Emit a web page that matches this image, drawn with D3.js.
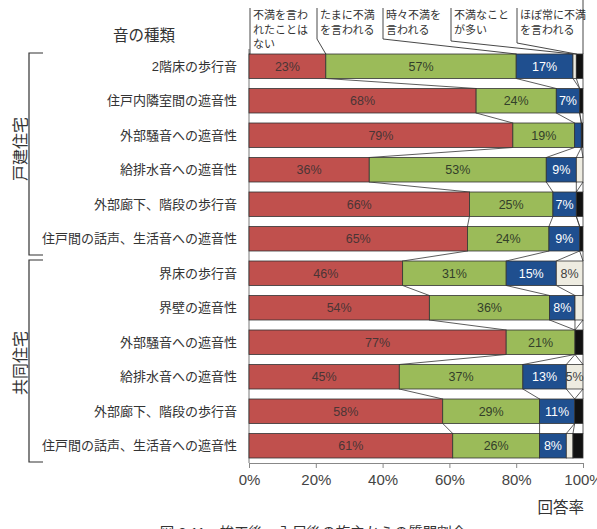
<!DOCTYPE html>
<html>
<head>
<meta charset="utf-8">
<script src="https://cdn.jsdelivr.net/npm/d3@7/dist/d3.min.js"></script>
<style>
  html, body { margin: 0; padding: 0; background: #fff; overflow: hidden; }
  svg { display: block; font-family: "Liberation Sans", "Noto Sans CJK JP", sans-serif; }
</style>
</head>
<body>
<svg id="chart" width="597" height="529"></svg>
<script>
const categories = [
  "2階床の歩行音", "住戸内隣室間の遮音性", "外部騒音への遮音性", "給排水音への遮音性",
  "外部廊下、階段の歩行音", "住戸間の話声、生活音への遮音性",
  "界床の歩行音", "界壁の遮音性", "外部騒音への遮音性", "給排水音への遮音性",
  "外部廊下、階段の歩行音", "住戸間の話声、生活音への遮音性"
];
const groups = ["戸建住宅", "共同住宅"];
const groupStart = [0, 6];
const groupEnd = [5, 11];
const seriesNames = ["不満を言われたことはない", "たまに不満を言われる", "時々不満を言われる", "不満なことが多い", "ほぼ常に不満を言われる"];
const seriesLabelLines = [["不満を言わ", "れたことは", "ない"], ["たまに不満", "を言われる"], ["時々不満を", "言われる"], ["不満なこと", "が多い"], ["ほぼ常に不満", "を言われる"]];
const never     = [23, 68, 79,   36, 66, 65.4, 46, 54,   77,   45, 58,   61];
const sometimes = [57, 24, 18.5, 53, 25, 24.4, 31, 36,   20.6, 37, 29,   26];
const often     = [17, 7,  2,    9,  7,  9.2,  15, 7.6,  0,    13, 10.5, 8];
const frequent  = [1,  0,  0,    2,  0,  0,    8,  2.4,  0,    5,  0,    2];
const always    = [2,  1,  0.5,  0,  2,  1,    0,  0,    2.4,  0,  2.5,  3];
const xTicks = [0, 20, 40, 60, 80, 100];
const xTickLabels = ["0%", "20%", "40%", "60%", "80%", "100%"];
const yAxisTitle = "音の種類";
const xAxisTitle = "回答率";
const caption = "図 2.11　竣工後、入居後の施主からの質問割合";

const colors = ["#c0504d", "#9bbb59", "#1f4f8f", "#eeece1", "#111111"];
const labelColors = ["#4a3535", "#33402a", "#ffffff", "#404040", "#ffffff"];

const seriesData = [never, sometimes, often, frequent, always];
const svg = d3.select("#chart");

const x = d3.scaleLinear().domain([0, 100]).range([249, 583]);
const y = d3.scaleBand().domain(d3.range(categories.length)).range([49, 463])
  .paddingInner(0.29).paddingOuter(0.145);
const bw = y.bandwidth();

// stacked data
const rows = categories.map((c, i) => {
  const o = { i };
  seriesNames.forEach((s, k) => o[k] = seriesData[k][i]);
  return o;
});
const stack = d3.stack().keys(d3.range(seriesNames.length))(rows);

// series lines (between bars)
const lineG = svg.append("g").attr("stroke", "#333").attr("stroke-width", 0.8).attr("fill", "none");
for (let i = 0; i < categories.length - 1; i++) {
  for (let k = 0; k < seriesNames.length; k++) {
    const a = stack[k][i][1], b = stack[k][i + 1][1];
    lineG.append("line")
      .attr("x1", x(a)).attr("y1", y(i) + bw)
      .attr("x2", x(b)).attr("y2", y(i + 1));
  }
}
// left axis line
svg.append("line").attr("x1", x(0)).attr("x2", x(0)).attr("y1", 49).attr("y2", 463)
  .attr("stroke", "#555").attr("stroke-width", 0.8);

// bars
stack.forEach((layer, k) => {
  const g = svg.append("g");
  g.selectAll("rect").data(layer.filter(d => d[1] - d[0] > 0)).join("rect")
    .attr("x", d => x(d[0]))
    .attr("y", d => y(d.data.i))
    .attr("width", d => x(d[1]) - x(d[0]))
    .attr("height", bw)
    .attr("fill", colors[k])
    .attr("stroke", "#333")
    .attr("stroke-width", 0.8);
  g.selectAll("text").data(layer.filter(d => d[1] - d[0] >= 5)).join("text")
    .attr("x", d => x((d[0] + d[1]) / 2))
    .attr("y", d => y(d.data.i) + bw / 2 + 4.5)
    .attr("text-anchor", "middle")
    .attr("font-size", 12.5)
    .attr("fill", labelColors[k])
    .text(d => Math.round(d[1] - d[0]) + "%");
});

// x axis
const xAxis = d3.axisBottom(x).tickValues(xTicks).tickSize(5).tickFormat((d, i) => xTickLabels[i]);
const ax = svg.append("g").attr("transform", "translate(0,463)").call(xAxis);
ax.select(".domain").attr("stroke", "#888");
ax.selectAll(".tick line").attr("stroke", "#888");
ax.selectAll(".tick text").attr("font-size", 15).attr("fill", "#444").attr("dy", "0.9em")
  .attr("font-family", "Liberation Sans, sans-serif");

svg.append("text").attr("x", 584).attr("y", 513).attr("text-anchor", "end")
  .attr("font-size", 15.5).attr("fill", "#333").text(xAxisTitle);

// category labels
svg.append("g").selectAll("text").data(categories).join("text")
  .attr("x", 237)
  .attr("y", (d, i) => y(i) + bw / 2 + 4.5)
  .attr("text-anchor", "end")
  .attr("font-size", 13)
  .attr("fill", "#333")
  .text(d => d);

svg.append("text").attr("x", 144).attr("y", 41).attr("text-anchor", "middle")
  .attr("font-size", 15.5).attr("fill", "#333").text(yAxisTitle);

// group brackets
const groupLabelShift = [-5, 2];
groups.forEach((gname, gi) => {
  const top = y(groupStart[gi]) - 1;
  const bot = y(groupEnd[gi]) + bw + 4;
  const g = svg.append("g");
  g.append("path")
    .attr("d", `M43,${top} L29,${top} L29,${bot} L43,${bot}`)
    .attr("fill", "none").attr("stroke", "#333").attr("stroke-width", 1.2);
  const cy = (top + bot) / 2 + groupLabelShift[gi];
  g.append("text")
    .attr("transform", `translate(26,${cy}) rotate(-90)`)
    .attr("text-anchor", "middle")
    .attr("font-size", 16)
    .attr("fill", "#333")
    .text(gname);
});

// series callout labels at top
const firstTop = y(0);
const calloutX = [250, 317, 383, 451, 517];
const calloutBend = [firstTop, 39, 39, 41, 43];
const legendG = svg.append("g");
seriesNames.forEach((s, k) => {
  const target = k === 0 ? x(0) : x(stack[k - 1][0][1]);
  legendG.append("path")
    .attr("d", `M${calloutX[k]},8 L${calloutX[k]},${calloutBend[k]} L${target},${firstTop}`)
    .attr("fill", "none").attr("stroke", "#333").attr("stroke-width", 0.9);
  const t = legendG.append("text").attr("font-size", 11).attr("fill", "#333");
  seriesLabelLines[k].forEach((ln, j) => {
    t.append("tspan").attr("x", calloutX[k] + 3).attr("y", 19 + j * 14.5).text(ln);
  });
});
legendG.append("line").attr("x1", x(100)).attr("x2", x(100)).attr("y1", 0).attr("y2", firstTop)
  .attr("stroke", "#333").attr("stroke-width", 0.9);

// caption (cut off at the bottom, as in the source)
svg.append("text").attr("x", 313).attr("y", 538).attr("text-anchor", "middle")
  .attr("font-size", 14.5).attr("fill", "#333").text(caption);
</script>
</body>
</html>
